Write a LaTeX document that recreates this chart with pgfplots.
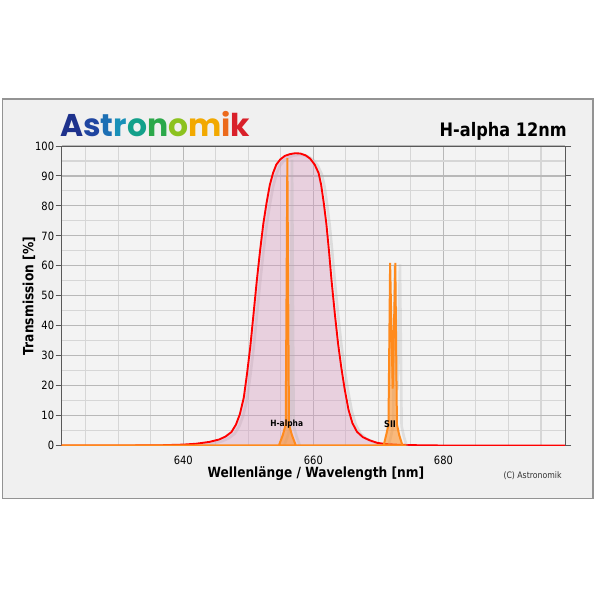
\documentclass[border=0pt]{standalone}
\usepackage{fontspec}
\usepackage{pgfplots}
\usepackage{pgfplotstable}
\pgfplotsset{compat=1.18}
\setmainfont{DejaVu Sans}[FakeStretch=0.87]
\newfontfamily\logofont{Poppins}
\definecolor{framebg}{HTML}{F0F0F0}
\definecolor{framegray}{HTML}{939393}
\definecolor{plotbg}{HTML}{F3F3F3}
\definecolor{pinkfill}{HTML}{D89CC0}
\definecolor{orng}{HTML}{FF8A1C}
\definecolor{cA}{HTML}{1E328C}
\definecolor{cB}{HTML}{1F45A0}
\definecolor{cC}{HTML}{1C6FB4}
\definecolor{cD}{HTML}{1890B8}
\definecolor{cE}{HTML}{13A08A}
\definecolor{cF}{HTML}{2BA84A}
\definecolor{cG}{HTML}{8CC21E}
\definecolor{cH}{HTML}{F2A900}
\definecolor{cI}{HTML}{EC6A1C}
\definecolor{cJ}{HTML}{D9202A}

\pgfplotstableread{
x y
621.3 0
630 0
636 0.05
640 0.3
642 0.6
644 1.2
645.5 2.0
646.5 3.0
647.4 4.5
648.1 7.0
648.7 10.5
649.3 16
649.8 24
650.3 33
650.8 44
651.3 55
651.8 65
652.3 74
652.8 81
653.3 87
653.8 91
654.3 93.8
654.9 95.5
655.6 96.7
656.4 97.3
657.2 97.6
658.0 97.5
658.8 96.9
659.5 95.8
660.2 93.8
660.8 91
661.2 87
661.6 81
662.0 74
662.4 65
662.8 55
663.3 44
663.8 34
664.3 26
664.8 19
665.4 12
666.0 7.5
666.7 4.6
667.6 2.8
668.7 1.7
669.8 0.9
671.0 0.5
673.0 0.25
676 0.1
680 0
698.7 0
}\redtab

\pgfplotstableread{
x y
621.3 0
654.7 0
655.3 3.5
655.75 7
656.0 96
656.25 7
656.7 3.5
657.3 0
670.8 0
671.2 3.5
671.55 7
671.8 61
672.2 19
672.6 61
672.85 7
673.2 3.5
673.7 0
674.3 0
}\orangetab

\begin{document}
\begin{tikzpicture}[x=0.75pt,y=0.75pt]
\fill[white] (0,0) rectangle (600,600);
\draw[fill=framebg, draw=framegray, line width=1.1pt] (2.5,101.5) rectangle (593,501);
\node[anchor=base west, inner sep=0pt] at (60,463) {\resizebox{142.5pt}{!}{\logofont\bfseries\color{cA}A\color{cB}s\color{cC}t\color{cD}r\color{cE}o\color{cF}n\color{cG}o\color{cH}m\color{cI}i\color{cJ}k}};
\node[anchor=base east, inner sep=0pt] at (567,463) {\resizebox{95.25pt}{!}{\bfseries H-alpha 12nm}};
\node[anchor=center, inner sep=0pt, text=black!80] at (532.5,124.3) {\resizebox{43.5pt}{!}{(C) Astronomik}};
\begin{axis}[
  at={(46.275pt,115.875pt)}, anchor=south west,
  scale only axis, width=377.5pt, height=224.6pt,
  xmin=621.3, xmax=698.7, ymin=0, ymax=100,
  axis background/.style={fill=plotbg},
  axis line style={draw=black!65, line width=0.75pt},
  xtick={640,660,680}, minor xtick={625,630,...,695},
  ytick={0,10,...,100}, minor ytick={5,15,...,95},
  grid=both,
  major grid style={black!28, line width=0.8pt},
  minor grid style={black!16, line width=0.8pt},
  tick align=outside,
  xtick style={draw=none}, minor tick style={draw=none},
  ytick style={black!65, line width=0.75pt}, major tick length=4.5pt,
  /pgf/number format/assume math mode=true,
  tick label style={font=\fontsize{8.55}{10}\selectfont, text=black},
  yticklabel style={inner xsep=1pt},
  xlabel={\resizebox{162.5pt}{!}{\bfseries Wellenlänge / Wavelength [nm]}},
  ylabel={\resizebox{88.5pt}{!}{\bfseries Transmission [\%]}},
  xlabel style={at={(axis description cs:0.505,-0.095)}, anchor=center, inner sep=0pt},
  ylabel style={at={(axis description cs:-0.065,0.499)}, anchor=center, inner sep=0pt},
]
\addplot[draw=black!30, line width=2pt, opacity=0.35, xshift=2.5pt, yshift=-1.2pt] table {\redtab};
\addplot[draw=none, fill=pinkfill, fill opacity=0.4] table {\redtab} \closedcycle;
\addplot[red, line width=1.4pt] table {\redtab};
\addplot[draw=black!30, line width=2pt, opacity=0.3, xshift=3.5pt, yshift=-1.2pt] table {\orangetab};
\addplot[draw=orng, line width=1.5pt, fill=orng, fill opacity=0.55] table {\orangetab} \closedcycle;
\node[inner sep=0pt] at (axis cs:655.9,7.2) {\resizebox{24.5pt}{!}{\bfseries H-alpha}};
\node[inner sep=0pt] at (axis cs:671.8,7.2) {\resizebox{8.8pt}{!}{\bfseries SII}};
\end{axis}
\end{tikzpicture}
\end{document}
